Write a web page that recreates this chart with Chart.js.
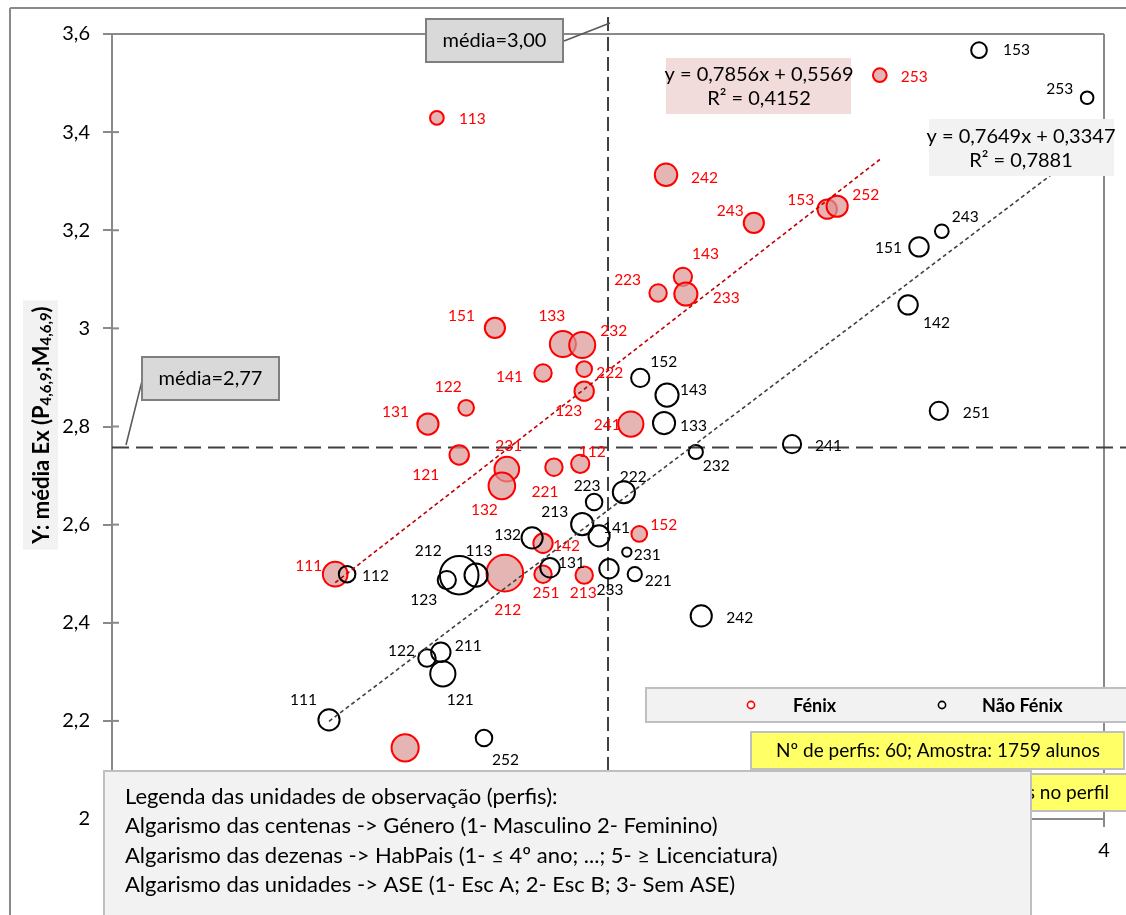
<!DOCTYPE html>
<html>
<head>
<meta charset="utf-8">
<script src="https://cdn.jsdelivr.net/npm/chart.js@4.4.1/dist/chart.umd.min.js"></script>
<style>
  html,body{margin:0;padding:0;background:#fff;}
  #wrap{width:1126px;height:915px;position:relative;}
</style>
</head>
<body>
<div id="wrap"><canvas id="chart" width="1126" height="915"></canvas></div>
<script>
'use strict';

/* ── DATA ────────────────────────────────────────────────── */
// Fénix profiles: id, x, y, nº de alunos (bubble area)
const FENIX_ID = ['113','242','243','253','153','252','143','223','233','151',
                  '133','232','222','141','123','122','131','241','121','231',
                  '132','221','112','152','142','212','251','213','111','211'];
const FENIX_X  = [2.655,3.117,3.294,3.548,3.442,3.462,3.151,3.101,3.157,2.772,
                  2.909,2.948,2.952,2.869,2.952,2.714,2.637,3.046,2.700,2.796,
                  2.786,2.891,2.944,3.063,2.869,2.792,2.869,2.952,2.450,2.591];
const FENIX_Y  = [3.429,3.313,3.215,3.516,3.243,3.249,3.105,3.072,3.070,3.001,
                  2.968,2.966,2.917,2.909,2.872,2.838,2.805,2.805,2.742,2.713,
                  2.679,2.717,2.724,2.581,2.562,2.501,2.499,2.497,2.499,2.145];
const FENIX_N  = [13,35,28,13,26,31,23,21,37,28,
                  47,47,17,21,26,17,31,44,26,42,
                  49,21,23,17,26,93,21,21,42,51];

// Não Fénix profiles
const NAO_ID = ['153','253','243','151','142','251','241','152','143','133',
                '232','222','223','213','141','132','231','131','233','221',
                '113','212','123','112','242','211','122','121','111','252'];
const NAO_X  = [3.748,3.966,3.673,3.627,3.605,3.667,3.371,3.065,3.119,3.113,
                3.177,3.032,2.972,2.948,2.982,2.847,3.038,2.883,3.002,3.054,
                2.734,2.700,2.675,2.474,3.188,2.663,2.635,2.667,2.4375,2.750];
const NAO_Y  = [3.567,3.470,3.198,3.166,3.048,2.832,2.764,2.899,2.864,2.807,
                2.748,2.666,2.646,2.601,2.577,2.573,2.544,2.512,2.510,2.499,
                2.497,2.497,2.487,2.499,2.414,2.340,2.328,2.296,2.202,2.165];
const NAO_N  = [17,11,13,26,26,23,23,23,37,34,
                14,34,19,34,31,31,6,26,26,14,
                37,103,23,19,31,26,21,44,31,19];

// linear trendlines [slope, intercept] and R²
const TREND_FENIX = [0.7856, 0.5569];
const R2_FENIX    = 0.4152;
const TREND_NAO   = [0.7649, 0.3347];
const R2_NAO      = 0.7881;

// means
const MEAN_X = 3.00;
const MEAN_X_LABEL = 'média=3,00';
const MEAN_Y = 2.757;
const MEAN_Y_LABEL = 'média=2,77';

// axes
const X_RANGE = [2, 4];
const Y_RANGE = [2, 3.6];
const TICK_STEP = 0.2;

const N_PERFIS = 60;
const AMOSTRA = 1759;

const NOTE_LINES = [
  'Legenda das unidades de observação (perfis):',
  'Algarismo das centenas -> Género (1- Masculino 2- Feminino)',
  'Algarismo das dezenas -> HabPais (1- ≤ 4º ano; ...; 5- ≥ Licenciatura)',
  'Algarismo das unidades -> ASE (1- Esc A; 2- Esc B; 3- Sem ASE)',
];

/* ── LAYOUT (label placement: dx, dy, align) ─────────────── */
const LBL_FENIX = {
  '113':[22,1,'left'],  '242':[25,3,'left'],   '243':[-10,-12,'right'], '253':[21,2,'left'],
  '153':[-13,-9,'right'],'252':[15,-11,'left'],'143':[9,-23,'left'],    '223':[-17,-13,'right'],
  '233':[27,4,'left'],  '151':[-20,-12,'right'],'133':[-11,-28,'center'],'232':[18,-14,'left'],
  '222':[12,4,'left'],  '141':[-20,4,'right'], '123':[-2,20,'right'],   '122':[-18,-21,'center'],
  '131':[-19,-12,'right'],'241':[-10,1,'right'],'121':[-20,20,'right'], '231':[2,-23,'center'],
  '132':[-4,24,'right'],'221':[-9,25,'center'],'112':[12,-12,'center'], '152':[11,-9,'left'],
  '142':[10,3,'left'],  '212':[3,37,'center'], '251':[3,19,'center'],   '213':[-1,18,'center'],
  '111':[-13,-8,'right'],'211':null,
};
const LBL_NAO = {
  '153':[24,0,'left'],  '253':[-14,-9,'right'],'243':[10,-14,'left'],   '151':[-17,1,'right'],
  '142':[15,18,'left'], '251':[24,2,'left'],   '241':[23,2,'left'],     '152':[10,-16,'left'],
  '143':[13,-5,'left'], '133':[16,3,'left'],   '232':[7,14,'left'],     '222':[-4,-15,'left'],
  '223':[-7,-16,'center'],'213':[-14,-12,'right'],'141':[4,-8,'left'], '132':[-11,-3,'right'],
  '231':[7,3,'left'],   '131':[8,-5,'left'],   '233':[1,21,'center'],   '221':[10,7,'left'],
  '113':[3,-24,'center'],'212':[-31,-24,'center'],'123':[-23,20,'center'],'112':[15,2,'left'],
  '242':[25,2,'left'],  '211':[14,-6,'left'],  '122':[-12,-7,'right'],  '121':[4,26,'left'],
  '111':[-12,-20,'right'],'252':[8,22,'left'],
};

/* ── HELPERS ─────────────────────────────────────────────── */
const FONT = "Lato, 'Open Sans', sans-serif";
const RED = '#ff0000';
const AXIS_GREY = '#898989';
const fmtTick = v => String(+(+v).toFixed(1)).replace('.', ',');
const fmtDec = (v, d) => v.toFixed(d).replace('.', ',');
const bubbleR = n => 1.9 * Math.sqrt(n);
const bubbles = (xs, ys, ns) => xs.map((x, i) => ({ x, y: ys[i], r: bubbleR(ns[i]) }));
const trendPts = (xs, [a, b]) => {
  const lo = Math.min(...xs), hi = Math.max(...xs);
  return [{ x: lo, y: a * lo + b }, { x: hi, y: a * hi + b }];
};

function box(ctx, x, y, w, h, fill, stroke, lw) {
  ctx.save();
  ctx.fillStyle = fill;
  ctx.fillRect(x, y, w, h);
  if (stroke) { ctx.strokeStyle = stroke; ctx.lineWidth = lw || 2; ctx.strokeRect(x, y, w, h); }
  ctx.restore();
}
function text(ctx, s, x, y, font, color, align) {
  ctx.save();
  ctx.font = font; ctx.fillStyle = color || '#000';
  ctx.textAlign = align || 'left'; ctx.textBaseline = 'middle';
  ctx.fillText(s, x, y);
  ctx.restore();
}
function line(ctx, x1, y1, x2, y2, color, lw, dash) {
  ctx.save();
  ctx.strokeStyle = color; ctx.lineWidth = lw; ctx.setLineDash(dash || []);
  ctx.beginPath(); ctx.moveTo(x1, y1); ctx.lineTo(x2, y2); ctx.stroke();
  ctx.restore();
}

/* ── Y TITLE (with subscripts) ───────────────────────────── */
function drawYTitle(ctx, cx, cy) {
  const big = `bold 22px ${FONT}`, sub = `bold 15px ${FONT}`;
  const parts = [['Y: média Ex (', big, 0], ['P', big, 0], ['4,6,9', sub, 2],
                 [';', big, 0], ['M', big, 0], ['4,6,9', sub, 2], [')', big, 0]];
  ctx.save();
  let total = 0;
  parts.forEach(p => { ctx.font = p[1]; p.push(ctx.measureText(p[0]).width); total += p[3]; });
  box(ctx, 23, cy - total / 2 - 6, 35, total + 12, '#f2f2f2');
  ctx.translate(cx, cy);
  ctx.rotate(-Math.PI / 2);
  ctx.fillStyle = '#000';
  ctx.textBaseline = 'alphabetic';
  let x = -total / 2;
  parts.forEach(p => { ctx.font = p[1]; ctx.fillText(p[0], x, 8 + p[2]); x += p[3]; });
  ctx.restore();
}

/* ── DECORATION PLUGIN ───────────────────────────────────── */
const deco = {
  id: 'deco',
  beforeDraw(chart) {
    const { ctx } = chart;
    // outer chart frame
    line(ctx, 10, 8, 10, 915, AXIS_GREY, 2);
    line(ctx, 10, 8, 1126, 8, AXIS_GREY, 2);
    drawYTitle(ctx, 41, 425);
  },
  beforeDatasetsDraw(chart) {
    const { ctx, chartArea: a, scales: { x, y } } = chart;
    // plot frame top / right
    line(ctx, a.left, a.top, a.right, a.top, AXIS_GREY, 2);
    line(ctx, a.right, a.top, a.right, a.bottom + 8, AXIS_GREY, 2);
    // inner parts of y ticks
    y.ticks.forEach(t => {
      const py = y.getPixelForValue(t.value);
      line(ctx, a.left, py, a.left + 7, py, AXIS_GREY, 2);
    });
    // mean lines
    const mx = x.getPixelForValue(MEAN_X), my = y.getPixelForValue(MEAN_Y);
    line(ctx, a.left, my, 1126, my, '#404040', 2, [17, 7]);
    line(ctx, mx, 17, mx, a.bottom, '#404040', 2, [14, 6]);
  },
  afterDatasetsDraw(chart) {
    const { ctx } = chart;
    const sets = [[2, NAO_ID, LBL_NAO, '#000'], [3, FENIX_ID, LBL_FENIX, RED]];
    sets.forEach(([di, ids, pos, col]) => {
      chart.getDatasetMeta(di).data.forEach((pt, i) => {
        const p = pos[ids[i]];
        if (!p) return;
        text(ctx, ids[i], pt.x + p[0], pt.y + p[1], `15.5px ${FONT}`, col, p[2]);
      });
    });
  },
  afterDraw(chart) {
    const { ctx } = chart;
    const f20 = `20px ${FONT}`;
    // mean callouts
    line(ctx, 564, 41, 610, 23, '#595959', 1.5);
    box(ctx, 426, 19, 137, 43, '#d9d9d9', '#7f7f7f', 2);
    text(ctx, MEAN_X_LABEL, 494.5, 41, f20, '#000', 'center');
    line(ctx, 142, 381, 126, 445, '#595959', 1.5);
    box(ctx, 142, 357, 137, 43, '#d9d9d9', '#7f7f7f', 2);
    text(ctx, MEAN_Y_LABEL, 210.5, 379, f20, '#000', 'center');
    // trendline equations
    box(ctx, 666, 58, 185, 56, '#f2dcdb');
    text(ctx, `y = ${fmtDec(TREND_FENIX[0], 4)}x + ${fmtDec(TREND_FENIX[1], 4)}`, 759, 75, f20, '#000', 'center');
    text(ctx, `R² = ${fmtDec(R2_FENIX, 4)}`, 759, 99, f20, '#000', 'center');
    box(ctx, 929, 119, 185, 57, '#f2f2f2');
    text(ctx, `y = ${fmtDec(TREND_NAO[0], 4)}x + ${fmtDec(TREND_NAO[1], 4)}`, 1021, 137, f20, '#000', 'center');
    text(ctx, `R² = ${fmtDec(R2_NAO, 4)}`, 1021, 161, f20, '#000', 'center');
    // legend
    box(ctx, 646, 688, 500, 34, '#f2f2f2', '#bfbfbf', 2);
    ctx.save();
    ctx.lineWidth = 1.6;
    ctx.fillStyle = '#fff';
    ctx.strokeStyle = RED; ctx.beginPath(); ctx.arc(751, 705, 3.6, 0, Math.PI * 2); ctx.fill(); ctx.stroke();
    ctx.strokeStyle = '#000'; ctx.beginPath(); ctx.arc(942, 705, 3.6, 0, Math.PI * 2); ctx.fill(); ctx.stroke();
    ctx.restore();
    text(ctx, chart.data.datasets[3].label, 793, 706, `bold 18px ${FONT}`, '#000');
    text(ctx, chart.data.datasets[2].label, 982, 706, `bold 18px ${FONT}`, '#000');
    // sample boxes
    box(ctx, 751, 732, 373, 37, '#ffff66', '#bfbfbf', 2);
    text(ctx, `Nº de perfis: ${N_PERFIS}; Amostra: ${AMOSTRA} alunos`, 938, 751, `19px ${FONT}`, '#000', 'center');
    box(ctx, 940, 774, 200, 37, '#ffff66', '#bfbfbf', 2);
    text(ctx, 'Área da bolha proporcional ao nº de alunos no perfil', 1109, 793, `19px ${FONT}`, '#000', 'right');
    // notes box
    box(ctx, 104, 771, 927, 160, '#f2f2f2', '#bfbfbf', 2);
    NOTE_LINES.forEach((s, i) => text(ctx, s, 125, 797 + i * 29.3, `22px ${FONT}`, '#000'));
  }
};

/* ── CHART ───────────────────────────────────────────────── */
function initChart() {
  const el = document.getElementById('chart');
  const tickFont = { family: FONT, size: 20 };
  new Chart(el, {
    type: 'bubble',
    data: {
      datasets: [
        { type: 'line', label: 'Linear (Fénix)', data: trendPts(FENIX_X, TREND_FENIX),
          borderColor: '#c00000', borderWidth: 1.6, borderDash: [4, 3], pointRadius: 0, fill: false, order: 0 },
        { type: 'line', label: 'Linear (Não Fénix)', data: trendPts(NAO_X, TREND_NAO),
          borderColor: '#404040', borderWidth: 1.6, borderDash: [4, 3], pointRadius: 0, fill: false, order: 0 },
        { label: 'Não Fénix', data: bubbles(NAO_X, NAO_Y, NAO_N),
          backgroundColor: 'rgba(0,0,0,0)', borderColor: '#000', borderWidth: 2, order: 1 },
        { label: 'Fénix', data: bubbles(FENIX_X, FENIX_Y, FENIX_N),
          backgroundColor: 'rgba(218,150,148,0.7)', borderColor: RED, borderWidth: 2, order: 2 },
      ]
    },
    options: {
      responsive: false, animation: false, events: [],
      layout: { padding: { top: 34, right: 22, left: 0, bottom: 0 } },
      plugins: { legend: { display: false }, tooltip: { enabled: false } },
      scales: {
        x: {
          type: 'linear', min: X_RANGE[0], max: X_RANGE[1],
          ticks: { stepSize: TICK_STEP, callback: fmtTick, font: tickFont, color: '#000', padding: 12, maxRotation: 0, autoSkip: false },
          grid: { drawOnChartArea: false, tickLength: 8, color: AXIS_GREY, lineWidth: 2 },
          border: { color: AXIS_GREY, width: 2 },
          afterFit: s => { s.height = 96; }
        },
        y: {
          type: 'linear', min: Y_RANGE[0], max: Y_RANGE[1],
          ticks: { stepSize: TICK_STEP, callback: fmtTick, font: tickFont, color: '#000', padding: 13 },
          grid: { drawOnChartArea: false, tickLength: 9, color: AXIS_GREY, lineWidth: 2 },
          border: { color: AXIS_GREY, width: 2 },
          afterFit: s => { s.width = 112; }
        }
      }
    },
    plugins: [deco]
  });
}

/* ── INIT ────────────────────────────────────────────────── */
document.addEventListener('DOMContentLoaded', initChart);
</script>
</body>
</html>
